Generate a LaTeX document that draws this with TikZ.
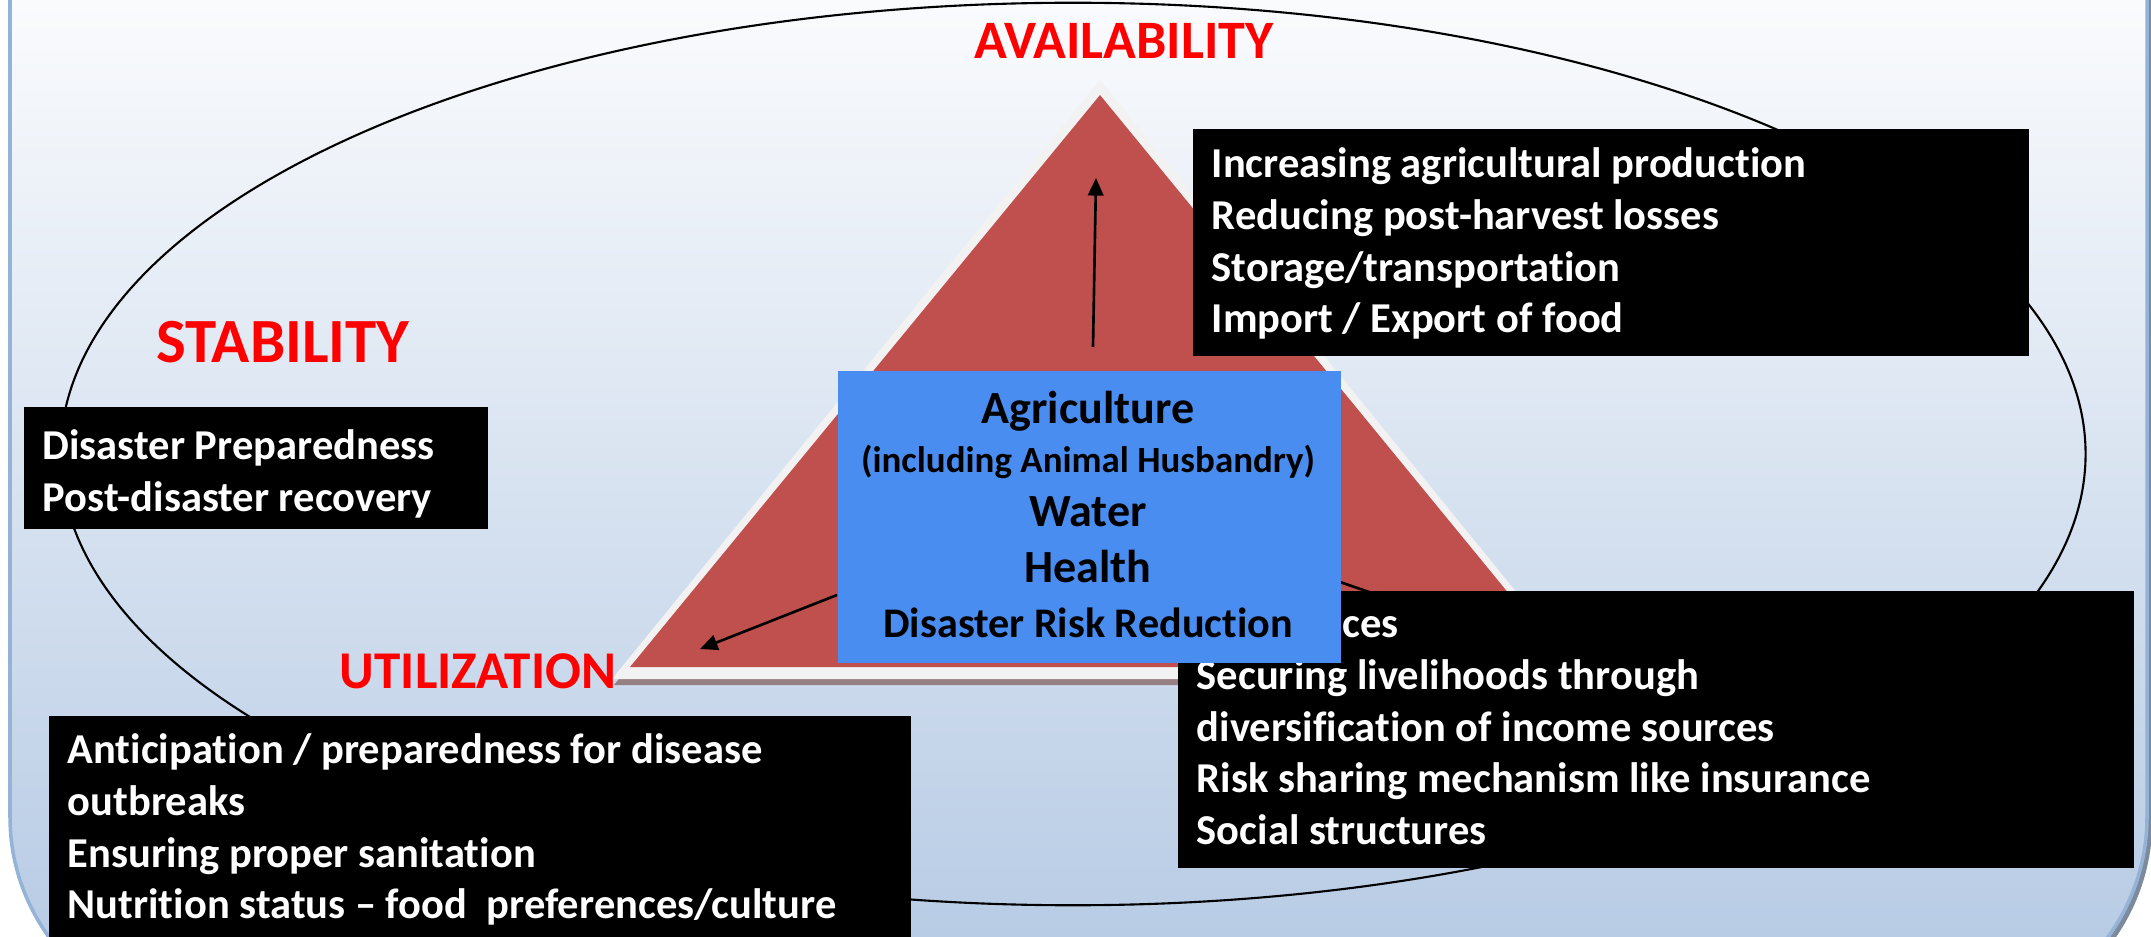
\documentclass[tikz,border=0pt]{standalone}
\usepackage{fontspec}
\setmainfont{Carlito}[Ligatures=NoCommon]
\usetikzlibrary{arrows.meta}
\definecolor{bgtop}{RGB}{250,251,253}
\definecolor{bgbot}{RGB}{184,204,229}
\definecolor{bgedge}{RGB}{149,179,215}
\definecolor{bgshadow}{RGB}{125,138,158}
\definecolor{trired}{RGB}{192,80,77}
\definecolor{triedge}{RGB}{242,242,242}
\definecolor{trishadow}{RGB}{150,128,132}
\definecolor{boxblue}{RGB}{74,141,240}
\definecolor{labelred}{RGB}{255,0,0}
\begin{document}
\begin{tikzpicture}[x=0.01cm,y=-0.01cm,
  blackbox/.style={fill=black,inner sep=0pt,anchor=north west},
  boxtext/.style={anchor=north west,inner sep=0pt,text=white,align=left,font=\bfseries\fontsize{12.1}{14.7}\selectfont},
  pillar/.style={text=labelred,font=\bfseries\fontsize{#1}{#1}\selectfont,inner sep=0pt,anchor=base},
  pillar/.default=15,
  coretext/.style={inner sep=0pt,anchor=base,font=\bfseries\fontsize{#1}{#1}\selectfont},
  coretext/.default=13,
  link/.style={draw=black,line width=0.75pt,-{Triangle[length=5pt,width=4.4pt]}}]
\useasboundingbox (0,0) rectangle (2151,937);
\fill[white] (0,0) rectangle (2151,937);
% background panel
\draw[bgshadow,line width=1.4pt,rounded corners=2.04cm] (13,-300) rectangle (2150,1024);
\begin{scope}
\clip[rounded corners=2.04cm] (10,-300) rectangle (2147,1021);
\shade[top color=bgtop,bottom color=bgbot] (0,0) rectangle (2151,937);
\end{scope}
\draw[bgedge,line width=1pt,rounded corners=2.04cm] (10,-300) rectangle (2147,1021);
% ellipse
\draw[line width=0.6pt] (1073,454) ellipse [x radius=10.12cm, y radius=4.51cm];
% triangle
\fill[trishadow] (1102,86) -- (614,685) -- (1589,685) -- cycle;
\fill[triedge] (1100,80) -- (612,679) -- (1587,679) -- cycle;
\fill[trired] (1100,95) -- (630,667) -- (1569,667) -- cycle;
% arrows
\coordinate (upTail) at (1093,347);
\coordinate (upTip) at (1096,178);
\coordinate (lTail) at (837,595);
\coordinate (lTip) at (700,649);
\coordinate (rTail) at (1340,582);
\coordinate (rTip) at (1490,634);
\draw[link] (upTail) -- (upTip);
\draw[link] (lTail) -- (lTip);
\draw[link] (rTail) -- (rTip);
% pillar labels
\node[pillar=15.4] (availability) at (1124,59) {AVAILABILITY};
\node[pillar=17.9] (stability) at (283,363) {STABILITY};
\node[pillar=15.1] (utilization) at (478,689) {UTILIZATION};
% black boxes
\node[blackbox,minimum width=8.36cm,minimum height=2.27cm] (avail) at (1192,128) {};
\node[boxtext,xshift=0.19cm,yshift=-0.128cm] (availtext) at (avail.north west)
  {\strut Increasing agricultural production\\Reducing post-harvest losses\\Storage/transportation\\Import / Export of food};
\node[blackbox,minimum width=4.64cm,minimum height=1.22cm] (stab) at (23,406) {};
\node[boxtext,xshift=0.19cm,yshift=-0.168cm] (stabtext) at (stab.north west)
  {\strut Disaster Preparedness\\Post-disaster recovery};
\node[blackbox,minimum width=9.56cm,minimum height=2.77cm] (access) at (1177,590) {};
\node[boxtext,xshift=0.19cm,yshift=-0.108cm] (accesstext) at (access.north west)
  {\strut\hspace*{41.5pt}ces\\Securing livelihoods through\\diversification of income sources\\Risk sharing mechanism like insurance\\Social structures};
\node[blackbox,minimum width=8.62cm,minimum height=2.31cm] (util) at (48,715) {};
\node[boxtext,xshift=0.19cm,yshift=-0.118cm] (utiltext) at (util.north west)
  {\strut Anticipation / preparedness for disease\\outbreaks\\Ensuring proper sanitation\\Nutrition status -- food\ \ preferences/culture};
% central box
\node[fill=boxblue,inner sep=0pt,anchor=north west,minimum width=5.03cm,minimum height=2.92cm] (core) at (837,370) {};
\node[coretext=13.1] (agri) at (1088,424) {Agriculture};
\node[coretext=10.5] (incl) at (1088,472) {(including Animal Husbandry)};
\node[coretext=13.1] (water) at (1088,527) {Water};
\node[coretext=13.1] (health) at (1088,583) {Health};
\node[coretext=12] (drr) at (1088,637) {Disaster Risk Reduction};
\end{tikzpicture}
\end{document}
